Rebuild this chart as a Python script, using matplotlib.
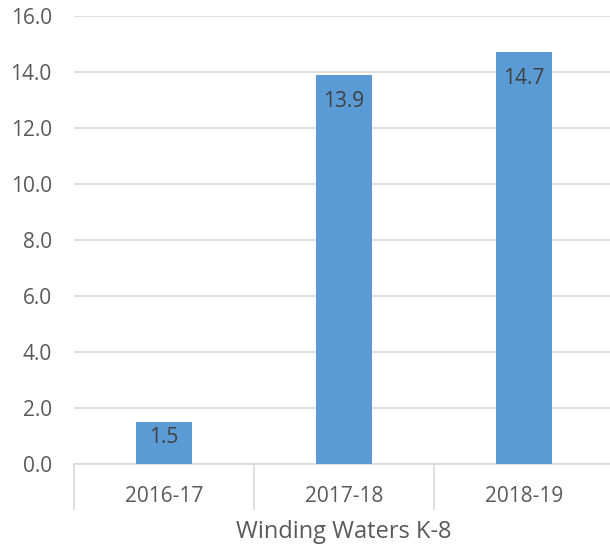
import matplotlib.pyplot as plt
from matplotlib.ticker import FixedLocator, FormatStrFormatter

plt.rcParams['font.family'] = ['Open Sans', 'DejaVu Sans']

# --- Data ---
years  = ["2016-17", "2017-18", "2018-19"]
values = [1.5, 13.9, 14.7]
group  = "Winding Waters K-8"

BAR   = "#5B9BD5"
GRID  = "#D9D9D9"
TXT   = "#595959"
LBL   = "#404040"

fig = plt.figure(figsize=(6.10, 5.48), dpi=100)
ax = fig.add_axes([74 / 610, 1 - 464 / 548, 540 / 610, 448 / 548])

x = list(range(len(years)))
bars = ax.bar(x, values, width=0.315, color=BAR, zorder=3)

ax.set_xlim(-0.5, len(years) - 0.5)
ax.set_ylim(0, 16)
ax.yaxis.set_major_locator(FixedLocator([0, 2, 4, 6, 8, 10, 12, 14, 16]))
ax.yaxis.set_major_formatter(FormatStrFormatter("%.1f"))
ax.grid(axis="y", color=GRID, lw=1.2, zorder=0)

for s in ["top", "right", "left"]:
    ax.spines[s].set_visible(False)
ax.spines["bottom"].set_color(GRID)
ax.spines["bottom"].set_linewidth(1.2)

ax.tick_params(axis="y", length=0, pad=16, labelsize=15, labelcolor=TXT)
ax.set_xticks(x)
ax.set_xticklabels(years)
ax.tick_params(axis="x", which="major", length=0, pad=16, labelsize=15, labelcolor=TXT)
# category separators below the axis
ax.set_xticks([i - 0.5 for i in range(len(years) + 1)], minor=True)
ax.tick_params(axis="x", which="minor", length=33, width=1.2, color=GRID, direction="out")

ax.set_xlabel(group, fontsize=17, color=TXT, labelpad=4)

# data labels, inside end
for b, v in zip(bars, values):
    off = -19 if v > 3 else -11.5
    ax.annotate(f"{v:.1f}", (b.get_x() + b.get_width() / 2, v), xytext=(0, off),
                textcoords="offset points", ha="center", va="center",
                fontsize=15, color=LBL, zorder=4)

fig.savefig("out.png", dpi=100)
